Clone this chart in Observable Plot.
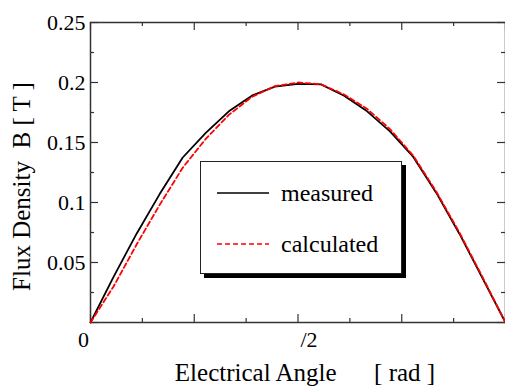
<!DOCTYPE html>
<html>
<head>
<meta charset="utf-8">
<script src="https://cdn.jsdelivr.net/npm/d3@7"></script>
<script src="https://cdn.jsdelivr.net/npm/@observablehq/plot@0.6"></script>
<style>
  html, body { margin: 0; padding: 0; background: #fff; }
  #wrap { position: relative; width: 505px; height: 388px; overflow: hidden; font-family: "Liberation Serif", "Times New Roman", Times, "DejaVu Serif", serif; }
  #wrap svg text { font-family: "Liberation Serif", "Times New Roman", Times, "DejaVu Serif", serif; }
  #legend { position: absolute; left: 200px; top: 161px; width: 200px; height: 111px; background: #fff; border: 1px solid #222; box-shadow: 4px 4px 0 #000; }
  #legend .row { position: absolute; left: 16px; display: flex; align-items: center; }
  #legend .lab { font-size: 24px; margin-left: 12px; color: #000; }
</style>
</head>
<body>
<div id="wrap"></div>
<script>
// Electrical angle in degrees (0 .. 180 = 0 .. π)
const angleDeg = [0, 10, 20, 30, 40, 50, 60, 70, 80, 90, 100, 110, 120, 130, 140, 150, 160, 170, 180];
// Flux density B [T]
const measured   = [0, 0.038, 0.074, 0.107, 0.1375, 0.158, 0.176, 0.189, 0.1965, 0.1988, 0.1984, 0.189, 0.176, 0.159, 0.138, 0.108, 0.074, 0.037, 0];
const calculated = [0, 0.030, 0.065, 0.098, 0.129, 0.153, 0.173, 0.188, 0.197, 0.2, 0.1985, 0.190, 0.178, 0.161, 0.139, 0.109, 0.075, 0.038, 0];

const xMajorTicks = [0, 45, 90, 135, 180];
const xMinorTicks = [22.5, 67.5, 112.5, 157.5];
const xTickValues = [0, 90];
const xTickLabels = ["0", "/2"];
const yMajorTicks = [0, 0.05, 0.1, 0.15, 0.2, 0.25];
const yMinorTicks = [0.025, 0.075, 0.125, 0.175, 0.225];
const yTickValues = [0.05, 0.1, 0.15, 0.2, 0.25];
const yTickLabels = ["0.05", "0.1", "0.15", "0.2", "0.25"];
const xTitle = "Electrical Angle\u00a0\u00a0\u00a0\u00a0\u00a0\u00a0[ rad ]";
const yTitle = "Flux Density\u00a0\u00a0B [ T ]";
const seriesNames = ["measured", "calculated"];

const W = 505, H = 388, mL = 90, mT = 22, mR = 0, mB = 66;
const innerW = W - mL - mR, innerH = H - mT - mB;
const axisColor = "#333";
const serif = '"Liberation Serif", "Times New Roman", Times, "DejaVu Serif", serif';

const measData = angleDeg.map((a, i) => ({a, b: measured[i]}));
const calcData = angleDeg.map((a, i) => ({a, b: calculated[i]}));

const chart = Plot.plot({
  width: W, height: H,
  marginLeft: mL, marginTop: mT, marginRight: mR, marginBottom: mB,
  style: {fontFamily: serif, background: "transparent", overflow: "visible"},
  x: {domain: [0, 180], axis: null},
  y: {domain: [0, 0.25], axis: null},
  marks: [
    Plot.frame({stroke: axisColor, strokeWidth: 1.5}),
    // bottom / top ticks (inward)
    Plot.tickX(xMajorTicks, {x: d => d, insetTop: innerH - 8, stroke: axisColor, strokeWidth: 1.2}),
    Plot.tickX(xMinorTicks, {x: d => d, insetTop: innerH - 4, stroke: axisColor, strokeWidth: 1.2}),
    Plot.tickX(xMajorTicks, {x: d => d, insetBottom: innerH - 8, stroke: axisColor, strokeWidth: 1.2}),
    Plot.tickX(xMinorTicks, {x: d => d, insetBottom: innerH - 4, stroke: axisColor, strokeWidth: 1.2}),
    // left / right ticks (inward)
    Plot.tickY(yMajorTicks, {y: d => d, insetRight: innerW - 8, stroke: axisColor, strokeWidth: 1.2}),
    Plot.tickY(yMinorTicks, {y: d => d, insetRight: innerW - 4, stroke: axisColor, strokeWidth: 1.2}),
    Plot.tickY(yMajorTicks, {y: d => d, insetLeft: innerW - 8, stroke: axisColor, strokeWidth: 1.2}),
    Plot.tickY(yMinorTicks, {y: d => d, insetLeft: innerW - 4, stroke: axisColor, strokeWidth: 1.2}),
    // curves
    Plot.line(measData, {x: "a", y: "b", stroke: "#000", strokeWidth: 1.8}),
    Plot.line(calcData, {x: "a", y: "b", stroke: "#ff0000", strokeWidth: 1.8, strokeDasharray: "5,3"}),
    // tick labels
    Plot.text(yTickValues, {y: d => d, text: (d, i) => yTickLabels[i], frameAnchor: "left", textAnchor: "end", dx: -5, fontSize: 22, fill: "#000", fontFamily: serif}),
    Plot.text(xTickValues, {x: d => d, text: (d, i) => xTickLabels[i], frameAnchor: "bottom", lineAnchor: "top", dy: 9, fontSize: 22, fill: "#000", fontFamily: serif}),
    // axis titles
    Plot.text([xTitle], {text: d => d, frameAnchor: "bottom", textAnchor: "middle", lineAnchor: "bottom", dx: 7, dy: 58, fontSize: 25, fill: "#000", fontFamily: serif}),
    Plot.text([yTitle], {text: d => d, frameAnchor: "left", textAnchor: "middle", rotate: -90, lineAnchor: "top", dx: -78, dy: 14, fontSize: 25, fill: "#000", fontFamily: serif})
  ]
});

const wrap = document.getElementById("wrap");
wrap.appendChild(chart);

// shift the x tick labels: "0" slightly left, "/2" slightly right
chart.querySelectorAll("text").forEach(t => {
  if (t.textContent === "0") t.setAttribute("dx", "-7");
  if (t.textContent === "/2") t.setAttribute("dx", "11");
});

// legend
const legend = document.createElement("div");
legend.id = "legend";
const styles = [{stroke: "#000", dash: null}, {stroke: "#ff0000", dash: "5,3"}];
seriesNames.forEach((name, i) => {
  const row = document.createElement("div");
  row.className = "row";
  row.style.top = (i === 0 ? 16 : 67) + "px";
  row.innerHTML = `<svg width="52" height="30"><line x1="0" x2="52" y1="15" y2="15" stroke="${styles[i].stroke}" stroke-width="1.4" ${styles[i].dash ? `stroke-dasharray="${styles[i].dash}"` : ""}/></svg><span class="lab">${name}</span>`;
  legend.appendChild(row);
});
wrap.appendChild(legend);
</script>
</body>
</html>
